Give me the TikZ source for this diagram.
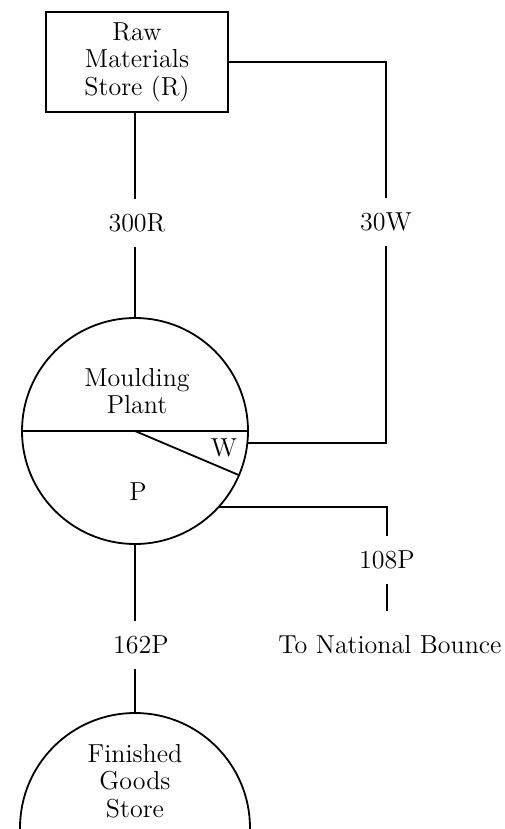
\documentclass[tikz,border=0pt]{standalone}
\usepackage{tikz}

\begin{document}
\begin{tikzpicture}[x=0.5pt,y=-0.5pt,line width=0.9pt,
  font=\fontsize{13}{13.8}\selectfont,
  store/.style={draw,outer sep=0pt,inner sep=0pt,align=center,minimum width=91pt,minimum height=50pt},
  plant/.style={draw,circle,outer sep=0pt,inner sep=0pt,minimum size=#1},
  qty/.style={inner xsep=2pt,inner ysep=7pt},
  txt/.style={align=center,inner sep=0pt}]
\clip (0,0) rectangle (504,829);
\node[store] (rms) at (137,62) {Raw\\Materials\\Store (R)};
\node[plant=113pt] (mp) at (135,431) {};
\node[plant=115pt] (fgs) at (135,828) {};
\node[txt] (mptxt) at (137,391) {Moulding\\Plant};
\node (w) at (224,448) {W};
\node (p) at (138,492) {P};
\node[txt] (fgstxt) at (135,781) {Finished\\Goods\\Store};
\node[qty] (q300) at (137,223) {300R};
\node[qty] (q30) at (386,222) {30W};
\node[qty] (q108) at (387,560) {108P};
\node[qty] (q162) at (141,645) {162P};
\node[qty,inner ysep=12pt] (dest) at (390,645) {To National Bounce};
% plant split into P and W
\draw (mp.west) -- (mp.east);
\draw (mp.center) -- (mp.-23);
% flows
\draw (mp.north |- rms.south) -- (mp.north |- q300.north);
\draw (mp.north |- q300.south) -- (mp.north);
\draw (rms.east) -| (q30.north);
\draw (q30.south) |- (mp.-6);
\draw (mp.-42) -| (q108.north);
\draw (q108.south) -- (q108.south |- dest.north);
\draw (mp.south) -- (mp.south |- q162.north);
\draw (fgs.north |- q162.south) -- (fgs.north);
\end{tikzpicture}
\end{document}
